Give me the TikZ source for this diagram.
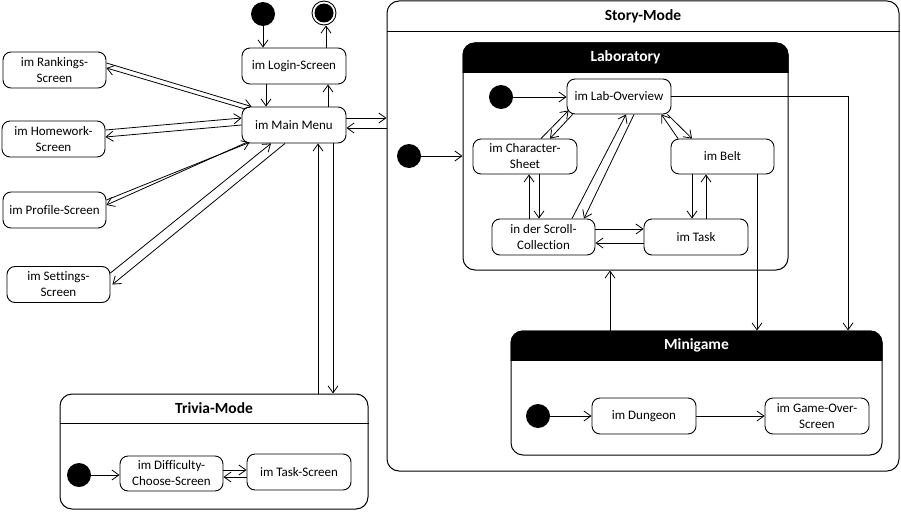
\documentclass[tikz,border=0pt]{standalone}
\usepackage{fontspec}
\setmainfont[Ligatures=NoCommon]{Carlito}
\usetikzlibrary{arrows.meta}
\newcommand\statefont{\fontsize{13}{16}\selectfont}
\newcommand\titlefont{\fontsize{15.5}{18}\selectfont\bfseries}
\tikzset{
  stbox/.style={draw, rounded corners=8pt, minimum width=104pt, minimum height=36pt,
    inner sep=0pt, align=center, font=\statefont, line width=0.9pt},
  initstate/.style={circle, fill=black, minimum size=24pt, inner sep=0pt},
  finalstate/.style={circle, draw, line width=0.9pt, minimum size=24pt, inner sep=0pt,
    path picture={\fill (path picture bounding box.center) circle (9.5pt);}},
  region/.style={draw, rounded corners=12pt, line width=1pt, inner sep=0pt},
  regiontitle/.style={font=\titlefont, inner sep=0pt, anchor=base},
  trans/.style={-{Straight Barb[length=7pt,width=10pt]}, line width=0.8pt},
}
\begin{document}
\begin{tikzpicture}[x=1pt, y=-1pt]
\useasboundingbox (0,0) rectangle (901,511);

% ---------- composite regions ----------
\node[region, minimum width=512pt, minimum height=470pt] (story) at (643,236) {};
\draw[line width=1pt] ([yshift=-31]story.north west) -- ([yshift=-31]story.north east);
\node[regiontitle] at ([yshift=-20]story.north) {Story-Mode};

\node[region, minimum width=325pt, minimum height=227pt] (lab) at (625.5,156.5) {};
\begin{scope}
  \clip ([yshift=-30]lab.north west) rectangle ([yshift=5]lab.north east);
  \fill[rounded corners=12pt] (lab.north west) rectangle (lab.south east);
\end{scope}
\node[regiontitle, text=white] at ([yshift=-19]lab.north) {Laboratory};

\node[region, minimum width=371pt, minimum height=124pt] (mg) at (696.5,393) {};
\begin{scope}
  \clip ([yshift=-30]mg.north west) rectangle ([yshift=5]mg.north east);
  \fill[rounded corners=12pt] (mg.north west) rectangle (mg.south east);
\end{scope}
\node[regiontitle, text=white] at ([yshift=-19]mg.north) {Minigame};

\node[region, minimum width=308pt, minimum height=115pt] (trivia) at (214,451.5) {};
\draw[line width=1pt] ([yshift=-30]trivia.north west) -- ([yshift=-30]trivia.north east);
\node[regiontitle] at ([yshift=-20]trivia.north) {Trivia-Mode};

% ---------- main menu level ----------
\node[initstate] (start) at (263,14) {};
\node[finalstate] (end) at (324,13) {};
\node[stbox] (login) at (294,66) {im Login-Screen};
\node[stbox] (menu) at (294,125) {im Main Menu};
\node[stbox, minimum width=103pt] (rank) at (54.5,70) {im Rankings-\\Screen};
\node[stbox, minimum width=103pt] (hw) at (53.5,139) {im Homework-\\Screen};
\node[stbox, minimum width=103pt] (prof) at (54.5,210) {im Profile-Screen};
\node[stbox, minimum width=103pt] (sett) at (58.5,284.5) {im Settings-\\Screen};

% ---------- laboratory ----------
\node[initstate] (storystart) at (409,156) {};
\node[initstate] (labstart) at (501,97) {};
\node[stbox, minimum height=35pt] (over) at (619,96.5) {im Lab-Overview};
\node[stbox, minimum height=35pt] (chars) at (525,156.5) {im Character-\\Sheet};
\node[stbox, minimum width=103pt, minimum height=35pt] (belt) at (722.5,156.5) {im Belt};
\node[stbox, minimum width=103pt] (scroll) at (543.5,237) {in der Scroll-\\Collection};
\node[stbox] (task) at (696,237) {im Task};

% ---------- minigame ----------
\node[initstate] (mgstart) at (538,416) {};
\node[stbox] (dungeon) at (644,416) {im Dungeon};
\node[stbox] (gameover) at (817,416) {im Game-Over-\\Screen};

% ---------- trivia ----------
\node[initstate] (trstart) at (79,475) {};
\node[stbox, minimum width=103pt, minimum height=35pt] (diff) at (171.5,473.5) {im Difficulty-\\Choose-Screen};
\node[stbox] (tscreen) at (299,472) {im Task-Screen};

% ---------- transitions: main menu level ----------
\draw[trans] (start.south) -- (start.south |- login.north);
\draw[trans] ([xshift=32]login.north) -- ([xshift=32]login.north |- end.south);
\draw[trans] ([xshift=-28]login.south) -- ([xshift=-28]menu.north);
\draw[trans] ([xshift=34]menu.north) -- ([xshift=34]login.south);

\draw[trans] ([yshift=7]rank.east) -- ([xshift=10]menu.north west);
\draw[trans] ([xshift=2,yshift=-2]menu.north west) -- ([yshift=2]rank.east);
\draw[trans] ([yshift=9]hw.east) -- ([yshift=7]menu.west);
\draw[trans] (menu.west) -- ([yshift=2]hw.east);
\draw[trans] ([xshift=5,yshift=1]menu.south west) -- ([yshift=5]prof.east);
\draw[trans] ([yshift=10]prof.east) -- ([xshift=8,yshift=1]menu.south west);
\draw[trans] ([yshift=11.5]sett.east) -- ([xshift=-23]menu.south);
\draw[trans] ([xshift=-9]menu.south) -- ([xshift=2]sett.east);

\draw[trans] ([yshift=7]menu.east) -- ([yshift=7]menu.east -| story.west);
\draw[trans] ([yshift=-3]menu.east -| story.west) -- ([yshift=-3]menu.east);
\draw[trans] ([xshift=24]menu.south |- trivia.north) -- ([xshift=24]menu.south);
\draw[trans] ([xshift=39]menu.south) -- ([xshift=39]menu.south |- trivia.north);

% ---------- transitions: story mode ----------
\draw[trans] (storystart.east) -- (storystart.east -| lab.west);
\draw[trans] (labstart.east) -- (labstart.east -| over.west);
\draw[trans] ([xshift=16]chars.north) -- ([xshift=2,yshift=4]over.south west);
\draw[trans] ([xshift=6]over.south west) -- ([xshift=25]chars.north);
\draw[trans] ([xshift=4]chars.south |- scroll.north) -- ([xshift=4]chars.south);
\draw[trans] ([xshift=14]chars.south) -- ([xshift=14]chars.south |- scroll.north);
\draw[trans] ([xshift=28.5]scroll.north) -- ([xshift=7]over.south);
\draw[trans] ([xshift=15]over.south) -- ([xshift=40.5]scroll.north);
\draw[trans] ([yshift=8]scroll.east) -- ([yshift=8]scroll.east -| task.west);
\draw[trans] ([yshift=-6]scroll.east -| task.west) -- ([yshift=-6]scroll.east);
\draw[trans] ([xshift=-4]over.south east) -- ([xshift=-30.5]belt.north);
\draw[trans] ([xshift=-44.5]belt.north) -- ([xshift=-10]over.south east);
\draw[trans] ([xshift=-30.5]belt.south) -- ([xshift=-30.5]belt.south |- task.north);
\draw[trans] ([xshift=10]task.north) -- ([xshift=10]task.north |- belt.south);
\draw[trans] (over.east) -| ([xshift=151.5]mg.north);
\draw[trans] ([xshift=34.5]belt.south) -- ([xshift=34.5]belt.south |- mg.north);
\draw[trans] ([xshift=-86.5]mg.north) -- ([xshift=-86.5]mg.north |- lab.south);
\draw[trans] (mgstart.east) -- (dungeon.west);
\draw[trans] (dungeon.east) -- (gameover.west);

% ---------- transitions: trivia mode ----------
\draw[trans] (trstart.east) -- (trstart.east -| diff.west);
\draw[trans] ([yshift=3.5]diff.east) -- ([yshift=3.5]diff.east -| tscreen.west);
\draw[trans] ([yshift=-3.5]diff.east -| tscreen.west) -- ([yshift=-3.5]diff.east);
\end{tikzpicture}
\end{document}
